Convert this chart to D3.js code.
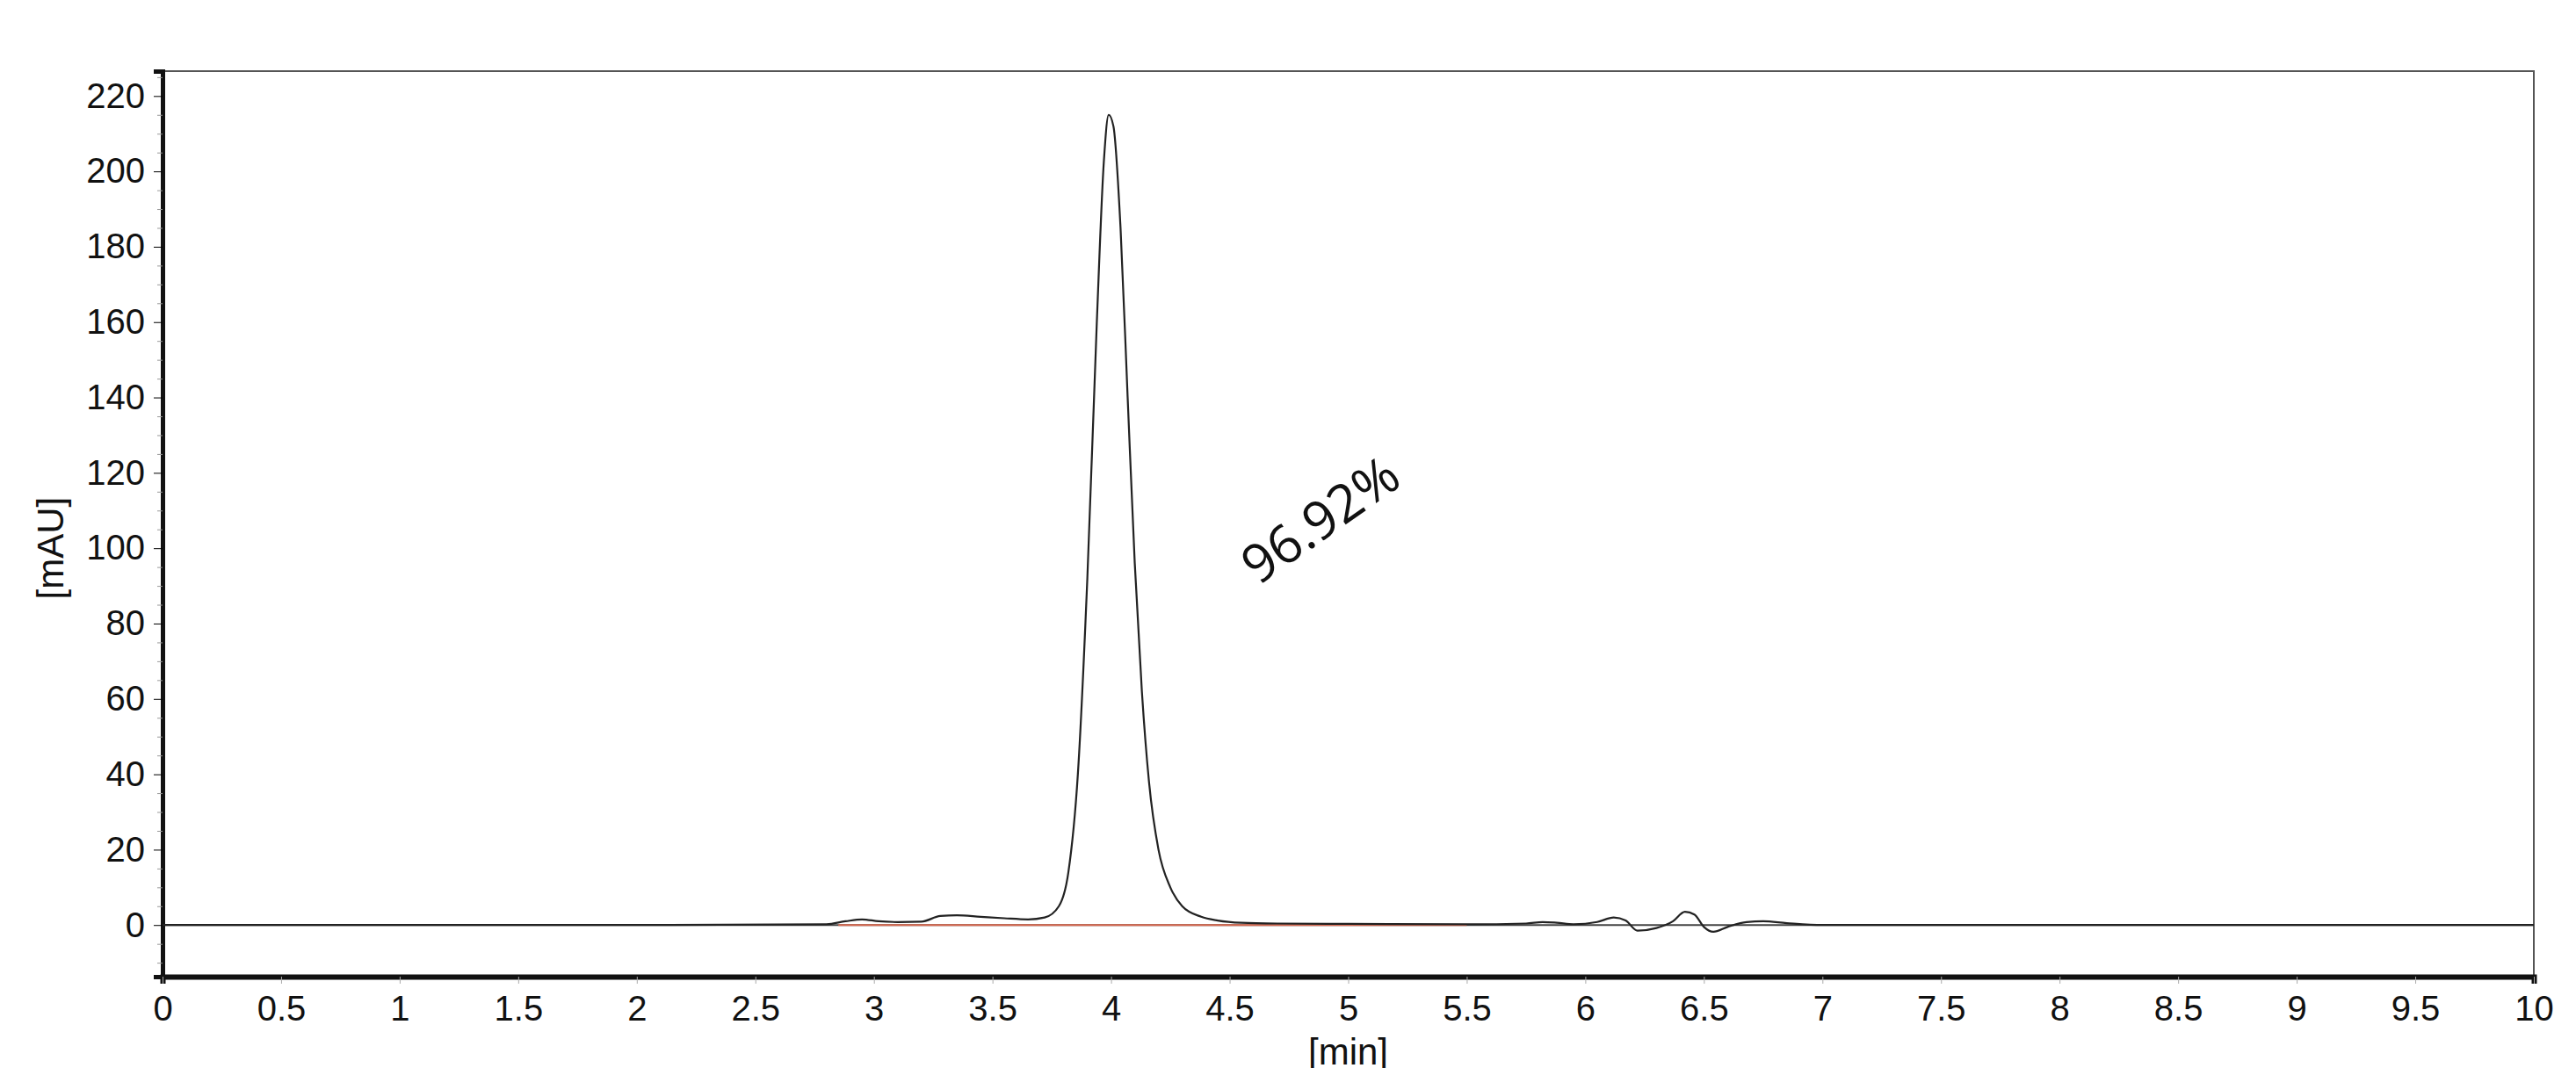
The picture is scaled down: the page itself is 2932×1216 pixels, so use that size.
<!DOCTYPE html>
<html>
<head>
<meta charset="utf-8">
<script src="https://cdn.jsdelivr.net/npm/d3@7"></script>
<style>body{margin:0;background:#fff;}</style>
</head>
<body>
<div id="container"></div>
<script>
// chromatogram trace (min, mAU)
let times = [0, 1, 2, 2.8, 2.88, 2.95, 3.02, 3.1, 3.2, 3.28, 3.35, 3.45, 3.55, 3.65, 3.72, 3.78, 3.82, 3.86, 3.9, 3.94, 3.97, 3.99, 4.01, 4.04, 4.07, 4.1, 4.13, 4.16, 4.2, 4.25, 4.3, 4.38, 4.45, 4.55, 4.7, 5.0, 5.5, 5.75, 5.82, 5.88, 5.95, 6.05, 6.12, 6.17, 6.22, 6.3, 6.37, 6.42, 6.46, 6.5, 6.54, 6.6, 6.68, 6.75, 6.85, 7, 8, 10];
let signal = [0, 0, 0, 0.2, 1.0, 1.5, 1.0, 0.8, 0.9, 2.4, 2.6, 2.2, 1.8, 1.5, 2.0, 5, 14, 40, 92, 160, 203, 215, 212, 185, 140, 96, 62, 38, 20, 10, 5, 2.2, 1.2, 0.6, 0.4, 0.3, 0.2, 0.4, 0.8, 0.6, 0.2, 0.8, 2.0, 1.2, -1.5, -0.8, 1.0, 3.5, 2.8, -0.5, -1.8, -0.5, 0.8, 1.0, 0.5, 0, 0, 0];
let baseStart = 2.85, baseEnd = 5.5;
let yTicks = [0, 20, 40, 60, 80, 100, 120, 140, 160, 180, 200, 220];
let xTicks = [0, 0.5, 1, 1.5, 2, 2.5, 3, 3.5, 4, 4.5, 5, 5.5, 6, 6.5, 7, 7.5, 8, 8.5, 9, 9.5, 10];
let peakLabel = "96.92%";

let W = 2932, H = 1216;
let plotLeft = 185, plotRight = 2884, plotTop = 81, plotBottom = 1112;

let viz = d3.select("#container").append("svg")
  .attr("width", W).attr("height", H)
  .style("background-color", "white");

let x = d3.scaleLinear().domain([0, 10]).range([plotLeft, plotRight]);
let y = d3.scaleLinear().domain([-13.7, 226.6]).range([plotBottom, plotTop]);

// frame
viz.append("rect").attr("x", plotLeft).attr("y", plotTop)
  .attr("width", plotRight - plotLeft).attr("height", plotBottom - plotTop)
  .attr("fill", "none").attr("stroke", "#555").attr("stroke-width", 2);

// zero line
viz.append("line").attr("x1", plotLeft).attr("x2", plotRight)
  .attr("y1", y(0)).attr("y2", y(0))
  .attr("stroke", "#444").attr("stroke-width", 2);

// y axis
let yAxis = viz.append("g").attr("transform", "translate(" + plotLeft + ",0)")
  .call(d3.axisLeft(y).tickValues(yTicks).tickSize(10).tickPadding(10));
viz.append("g").attr("transform", "translate(" + plotLeft + ",0)")
  .call(d3.axisLeft(y).tickValues(d3.range(-10, 226, 5).filter(v => v % 20 != 0)).tickSize(6).tickFormat(""))
  .call(g => g.select(".domain").remove())
  .selectAll("line").attr("stroke", "#999");
yAxis.select(".domain").attr("stroke", "#111").attr("stroke-width", 5);

// x axis
let xAxis = viz.append("g").attr("transform", "translate(0," + plotBottom + ")")
  .call(d3.axisBottom(x).tickValues(xTicks).tickSize(8).tickPadding(14)
    .tickFormat(d => d3.format("~g")(d)));
xAxis.select(".domain").attr("stroke", "#111").attr("stroke-width", 6);
xAxis.selectAll("line").attr("stroke", "#aaa");

viz.selectAll(".tick text")
  .attr("font-family", "Liberation Sans, Arial, sans-serif")
  .attr("font-size", 40).attr("fill", "#111");

// axis titles
viz.append("text").text("[min]")
  .attr("x", x(5)).attr("y", 1212)
  .attr("text-anchor", "middle")
  .attr("font-family", "Liberation Sans, Arial, sans-serif")
  .attr("font-size", 42).attr("fill", "#111");
viz.append("text").text("[mAU]")
  .attr("transform", "translate(72," + y(100) + ") rotate(-90)")
  .attr("text-anchor", "middle")
  .attr("font-family", "Liberation Sans, Arial, sans-serif")
  .attr("font-size", 42).attr("fill", "#111");

// integration baseline
viz.append("line")
  .attr("x1", x(baseStart)).attr("x2", x(baseEnd))
  .attr("y1", y(0)).attr("y2", y(0))
  .attr("stroke", "#d9694f").attr("stroke-width", 2);

// trace
let pts = times.map((t, i) => [t, signal[i]]);
viz.append("path").datum(pts)
  .attr("d", d3.line().x(d => x(d[0])).y(d => y(d[1])).curve(d3.curveMonotoneX))
  .attr("fill", "none").attr("stroke", "#222").attr("stroke-width", 2.2);

// peak annotation
viz.append("text").text(peakLabel)
  .attr("transform", "translate(" + x(4.62) + "," + y(90) + ") rotate(-35)")
  .attr("font-family", "Open Sans, Noto Sans, sans-serif")
  .attr("font-size", 60).attr("fill", "#111");
</script>
</body>
</html>
